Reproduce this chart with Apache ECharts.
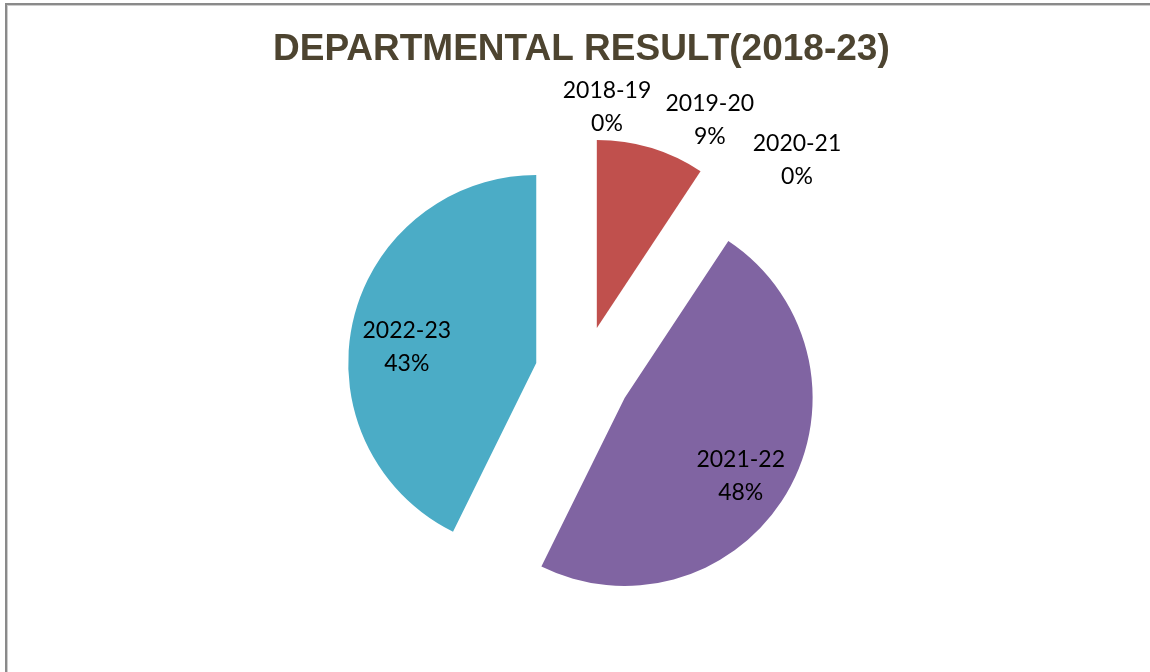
<!DOCTYPE html>
<html>
<head>
<meta charset="utf-8">
<script src="https://cdn.jsdelivr.net/npm/echarts@6/dist/echarts.min.js"></script>
<style>
  html, body { margin: 0; padding: 0; background: #ffffff; overflow: hidden; }
  #chart { position: absolute; left: 0; top: 0; width: 1150px; height: 672px; }
  #frame { position: absolute; left: 5px; top: 3px; width: 1200px; height: 720px;
           border-left: 2px solid #8a8a8a; border-top: 2px solid #8a8a8a; pointer-events: none; }
  #frame2 { position: absolute; left: 7px; top: 5px; width: 1200px; height: 720px;
           border-left: 1px solid #cdcdcd; border-top: 1px solid #cdcdcd; pointer-events: none; }
</style>
</head>
<body>
<div id="chart"></div>
<div id="frame"></div>
<div id="frame2"></div>
<script>
// ---- data ----
const categories = ['2018-19', '2019-20', '2020-21', '2021-22', '2022-23'];
const values = [0, 9.3, 0, 48, 42.7];
const titleText = 'DEPARTMENTAL RESULT(2018-23)';

// ---- styles ----
const colors = ['#4F81BD', '#C0504D', '#9BBB59', '#8064A2', '#4BACC6'];
const labelNudges = [[24, -122], [85, -115], [134, -93], [32, 30], [-35, 6]];

const chart = echarts.init(document.getElementById('chart'), null, { renderer: 'canvas' });

const option = {
  backgroundColor: '#ffffff',
  animation: false,
  title: {
    text: titleText,
    left: 273,
    top: 31,
    padding: 0,
    textStyle: {
      fontFamily: 'Liberation Sans, Arial, sans-serif',
      fontWeight: 'bold',
      fontSize: 37,
      color: '#4d4430'
    }
  },
  series: [{
    type: 'pie',
    center: [583, 374],
    radius: 188,
    startAngle: 90,
    clockwise: true,
    selectedMode: 'multiple',
    selectedOffset: 48,
    avoidLabelOverlap: false,
    minShowLabelAngle: 0,
    itemStyle: { borderWidth: 0, borderRadius: 0 },
    select: { itemStyle: { borderWidth: 0 } },
    emphasis: { disabled: true },
    label: {
      show: true,
      position: 'inside',
      fontFamily: 'Lato, sans-serif',
      fontSize: 23,
      lineHeight: 33,
      color: '#000000',
      align: 'center',
      formatter: function (p) { return p.name + '\n' + Math.round(p.percent) + '%'; }
    },
    labelLine: { show: false },
    labelLayout: function (params) {
      const n = labelNudges[params.dataIndex];
      return { dx: n[0], dy: n[1] };
    },
    data: categories.map(function (c, i) {
      return { name: c, value: values[i], selected: true, itemStyle: { color: colors[i] } };
    })
  }]
};

chart.setOption(option);
</script>
</body>
</html>
